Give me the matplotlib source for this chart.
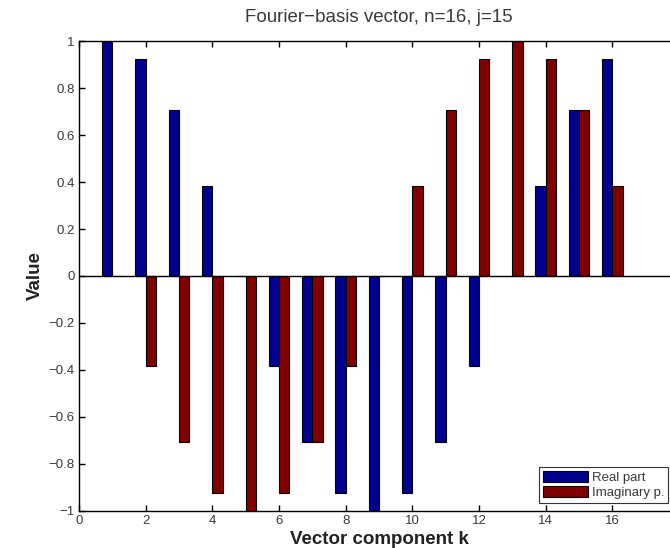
import matplotlib

matplotlib.use("Agg")
import matplotlib.pyplot as plt
import numpy as np

# Fourier-basis vector, n=16, j=15
k = np.arange(1, 17)
real_part = [1.0, 0.9239, 0.7071, 0.3827, 0.0, -0.3827, -0.7071, -0.9239,
             -1.0, -0.9239, -0.7071, -0.3827, 0.0, 0.3827, 0.7071, 0.9239]
imag_part = [0.0, -0.3827, -0.7071, -0.9239, -1.0, -0.9239, -0.7071, -0.3827,
             0.0, 0.3827, 0.7071, 0.9239, 1.0, 0.9239, 0.7071, 0.3827]
labels = ["Real part", "Imaginary p."]
x_ticks = np.arange(0, 19, 2)
y_ticks = np.round(np.arange(-1, 1.01, 0.2), 1)


def fmt(v):
    if abs(v) < 1e-9:
        return "0"
    return f"{v:g}".replace("-", "\u2212")


plt.rcParams["font.family"] = ["Liberation Sans", "DejaVu Sans"]
text_col = "#3a3a3a"

fig = plt.figure(figsize=(6.7, 5.48), dpi=100)
fig.patch.set_facecolor("white")
# axes run a little past the right edge of the canvas, as in the reference
ax = fig.add_axes([79 / 670, 37.5 / 548, 600 / 670, 469 / 548])

w = 0.31
ax.bar(k - w / 2, real_part, w, color="#00008f", edgecolor="black",
       linewidth=0.8, label=labels[0])
ax.bar(k + w / 2, imag_part, w, color="#800000", edgecolor="black",
       linewidth=0.8, label=labels[1])
ax.axhline(0, color="black", linewidth=1.0, zorder=3)

ax.set_xlim(0, 18)
ax.set_ylim(-1, 1)
ax.set_xticks(x_ticks)
ax.set_yticks(y_ticks)
ax.set_yticklabels([fmt(v) for v in y_ticks])
ax.tick_params(direction="in", length=4, width=1, top=True, right=True,
               labelsize=9.5, colors="black", labelcolor=text_col, pad=3)
for s in ax.spines.values():
    s.set_linewidth(1.0)

ax.set_title("Fourier\u2212basis vector, n=16, j=15", fontsize=13.5,
             color=text_col, pad=14)
ax.set_xlabel("Vector component k", fontsize=13.5, fontweight="bold",
              color="#222222", labelpad=3)
ax.set_ylabel("Value", fontsize=13.5, fontweight="bold", color="#222222",
              labelpad=3.5)

leg = ax.legend(loc="lower right", bbox_to_anchor=(668 / 670, 45 / 548),
                bbox_transform=fig.transFigure, fontsize=9.5, frameon=True,
                fancybox=False, edgecolor="black", handlelength=3.4,
                handleheight=0.9, handletextpad=0.3, borderpad=0.3,
                labelspacing=0.15, borderaxespad=0)
leg.get_frame().set_linewidth(0.8)
for t in leg.get_texts():
    t.set_color(text_col)

fig.savefig("out.png", dpi=100, facecolor="white")
